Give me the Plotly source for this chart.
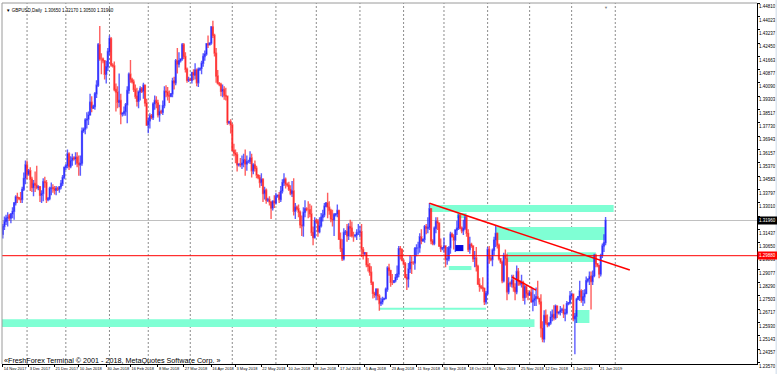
import pandas as pd
import plotly.graph_objects as go

# ---------------- data: GBPUSD daily bars (one line per week, Sun..Fri) ----------------
opens = [
    1.3190, 1.3115, 1.3160, 1.3190, 1.3210,
    1.3225, 1.3210, 1.3235, 1.3250, 1.3300, 1.3335,
    1.3330, 1.3325, 1.3320, 1.3380, 1.3445, 1.3525,
    1.3470, 1.3490, 1.3440, 1.3390, 1.3415, 1.3405,
    1.3390, 1.3395, 1.3345, 1.3355, 1.3425, 1.3420,
    1.3320, 1.3325, 1.3385, 1.3390, 1.3385, 1.3375,
    1.3385, 1.3380, 1.3395, 1.3415, 1.3450,
    1.3510, 1.3520, 1.3590, 1.3515, 1.3550,
    1.3565, 1.3560, 1.3570, 1.3535, 1.3525, 1.3535,
    1.3725, 1.3735, 1.3790, 1.3795, 1.3820, 1.3895,
    1.3860, 1.3870, 1.3945, 1.3995, 1.4235, 1.4150,
    1.4150, 1.4140, 1.4060, 1.4105, 1.4195, 1.4270,
    1.4115, 1.4110, 1.3970, 1.3955, 1.3895, 1.3905,
    1.3825, 1.3830, 1.3840, 1.3880, 1.3965, 1.4060,
    1.4030, 1.4015, 1.3970, 1.3930, 1.3900, 1.3955,
    1.3975, 1.3960, 1.3995, 1.3890, 1.3760, 1.3785,
    1.3815, 1.3805, 1.3885, 1.3905, 1.3890, 1.3820,
    1.3840, 1.3835, 1.3875, 1.3960, 1.3955, 1.3935,
    1.3930, 1.3945, 1.4020, 1.4010, 1.4140, 1.4120,
    1.4140, 1.4150, 1.4235, 1.4165, 1.4090, 1.4025,
    1.4030, 1.4025, 1.4070, 1.4055, 1.4085, 1.4010,
    1.4090, 1.4095, 1.4125, 1.4165, 1.4180, 1.4240,
    1.4235, 1.4245, 1.4340, 1.4290, 1.4185, 1.4050,
    1.4005, 1.4000, 1.3960, 1.3970, 1.3935, 1.3930,
    1.3775, 1.3780, 1.3760, 1.3610, 1.3595, 1.3585,
    1.3525, 1.3530, 1.3525, 1.3535, 1.3555, 1.3530,
    1.3545, 1.3545, 1.3565, 1.3490, 1.3525, 1.3505,
    1.3465, 1.3450, 1.3420, 1.3440, 1.3355, 1.3375,
    1.3315, 1.3320, 1.3305, 1.3270, 1.3310, 1.3300,
    1.3340, 1.3345, 1.3320, 1.3370, 1.3420, 1.3440,
    1.3410, 1.3405, 1.3380, 1.3355, 1.3370, 1.3250,
    1.3275, 1.3265, 1.3245, 1.3170, 1.3165, 1.3245,
    1.3265, 1.3260, 1.3260, 1.3235, 1.3125, 1.3095,
    1.3195, 1.3190, 1.3130, 1.3165, 1.3215, 1.3230,
    1.3280, 1.3300, 1.3275, 1.3255, 1.3205, 1.3200,
    1.3230, 1.3235, 1.3255, 1.3085, 1.3030, 1.2970,
    1.3125, 1.3130, 1.3105, 1.3160, 1.3150, 1.3105,
    1.3105, 1.3110, 1.3125, 1.3125, 1.3130, 1.3025,
    1.3000, 1.3005, 1.2935, 1.2925, 1.2890, 1.2830,
    1.2765, 1.2755, 1.2790, 1.2750, 1.2705, 1.2715,
    1.2730, 1.2735, 1.2790, 1.2915, 1.2900, 1.2830,
    1.2830, 1.2840, 1.2860, 1.2880, 1.3030, 1.3025,
    1.2960, 1.2940, 1.2860, 1.2850, 1.2910, 1.2950,
    1.2945, 1.2945, 1.3030, 1.3035, 1.3035, 1.3100,
    1.3075, 1.3085, 1.3160, 1.3150, 1.3155, 1.3265,
    1.3075, 1.3060, 1.3150, 1.3190, 1.3180, 1.3045,
    1.3030, 1.3035, 1.3045, 1.2965, 1.2970, 1.3035,
    1.3115, 1.3100, 1.3080, 1.3140, 1.3150, 1.3225,
    1.3150, 1.3135, 1.3150, 1.3215, 1.3120, 1.3025,
    1.3055, 1.3045, 1.2970, 1.2975, 1.2925, 1.2820,
    1.2805, 1.2800, 1.2795, 1.2715, 1.2765, 1.3025,
    1.2970, 1.2965, 1.3020, 1.3080, 1.3120, 1.3050,
    1.2970, 1.2950, 1.2840, 1.2990, 1.2970, 1.2775,
    1.2825, 1.2820, 1.2845, 1.2800, 1.2775, 1.2895,
    1.2835, 1.2820, 1.2830, 1.2740, 1.2805, 1.2765,
    1.2755, 1.2770, 1.2715, 1.2725, 1.2735, 1.2745,
    1.2735, 1.2715, 1.2560, 1.2495, 1.2635, 1.2590,
    1.2580, 1.2590, 1.2625, 1.2640, 1.2620, 1.2690,
    1.2650, 1.2655, 1.2665, 1.2670, 1.2645, 1.2650,
    1.2705, 1.2710, 1.2750, 1.2760, 1.2615, 1.2630,
    1.2730, 1.2745, 1.2780, 1.2725, 1.2745, 1.2765,
    1.2840, 1.2850, 1.2865, 1.2835, 1.2870, 1.2990,
    1.2940, 1.2930, 1.2880, 1.2990, 1.3045, 1.3065,
]
highs = [
    1.3195, 1.3175, 1.3220, 1.3230, 1.3245,
    1.3235, 1.3240, 1.3275, 1.3305, 1.3345, 1.3360,
    1.3335, 1.3365, 1.3395, 1.3480, 1.3550, 1.3550,
    1.3500, 1.3510, 1.3455, 1.3435, 1.3485, 1.3520,
    1.3405, 1.3400, 1.3375, 1.3445, 1.3455, 1.3435,
    1.3335, 1.3395, 1.3420, 1.3410, 1.3400, 1.3400,
    1.3395, 1.3400, 1.3435, 1.3465, 1.3515,
    1.3530, 1.3615, 1.3600, 1.3575, 1.3590,
    1.3575, 1.3600, 1.3600, 1.3580, 1.3580, 1.3745,
    1.3745, 1.3800, 1.3835, 1.3840, 1.3945, 1.3930,
    1.3880, 1.3955, 1.4025, 1.4245, 1.4345, 1.4185,
    1.4160, 1.4145, 1.4140, 1.4215, 1.4290, 1.4280,
    1.4125, 1.4135, 1.4005, 1.3990, 1.4065, 1.3945,
    1.3835, 1.3870, 1.3890, 1.3990, 1.4070, 1.4145,
    1.4040, 1.4030, 1.4000, 1.3980, 1.3965, 1.3990,
    1.3985, 1.4010, 1.4000, 1.3915, 1.3805, 1.3830,
    1.3825, 1.3895, 1.3935, 1.3930, 1.3910, 1.3880,
    1.3850, 1.3905, 1.3990, 1.3995, 1.3985, 1.3965,
    1.3950, 1.4040, 1.4045, 1.4150, 1.4215, 1.4190,
    1.4155, 1.4245, 1.4245, 1.4190, 1.4100, 1.4045,
    1.4040, 1.4075, 1.4090, 1.4125, 1.4095, 1.4100,
    1.4100, 1.4140, 1.4185, 1.4200, 1.4245, 1.4290,
    1.4250, 1.4345, 1.4377, 1.4300, 1.4215, 1.4085,
    1.4015, 1.4010, 1.4000, 1.3990, 1.3980, 1.3935,
    1.3785, 1.3795, 1.3770, 1.3650, 1.3615, 1.3600,
    1.3535, 1.3565, 1.3580, 1.3590, 1.3615, 1.3580,
    1.3555, 1.3605, 1.3590, 1.3535, 1.3550, 1.3520,
    1.3470, 1.3465, 1.3475, 1.3445, 1.3395, 1.3385,
    1.3330, 1.3340, 1.3310, 1.3315, 1.3345, 1.3360,
    1.3350, 1.3365, 1.3400, 1.3440, 1.3475, 1.3450,
    1.3420, 1.3425, 1.3405, 1.3430, 1.3445, 1.3300,
    1.3285, 1.3290, 1.3255, 1.3225, 1.3275, 1.3315,
    1.3275, 1.3310, 1.3295, 1.3285, 1.3160, 1.3215,
    1.3205, 1.3205, 1.3215, 1.3240, 1.3260, 1.3300,
    1.3305, 1.3360, 1.3310, 1.3265, 1.3260, 1.3240,
    1.3240, 1.3290, 1.3260, 1.3125, 1.3085, 1.3150,
    1.3140, 1.3175, 1.3180, 1.3200, 1.3190, 1.3130,
    1.3115, 1.3145, 1.3175, 1.3165, 1.3175, 1.3040,
    1.3010, 1.3010, 1.2975, 1.2945, 1.2925, 1.2835,
    1.2775, 1.2795, 1.2795, 1.2760, 1.2740, 1.2745,
    1.2740, 1.2800, 1.2925, 1.2940, 1.2905, 1.2880,
    1.2845, 1.2880, 1.2930, 1.3045, 1.3045, 1.3030,
    1.2965, 1.2950, 1.2880, 1.2945, 1.2990, 1.2985,
    1.2955, 1.3040, 1.3055, 1.3070, 1.3120, 1.3145,
    1.3090, 1.3170, 1.3175, 1.3215, 1.3300, 1.3270,
    1.3085, 1.3160, 1.3215, 1.3215, 1.3185, 1.3090,
    1.3040, 1.3095, 1.3050, 1.3040, 1.3045, 1.3130,
    1.3125, 1.3115, 1.3145, 1.3195, 1.3235, 1.3240,
    1.3160, 1.3200, 1.3230, 1.3225, 1.3145, 1.3100,
    1.3065, 1.3050, 1.3015, 1.3040, 1.2935, 1.2855,
    1.2815, 1.2860, 1.2800, 1.2780, 1.3040, 1.3045,
    1.2985, 1.3030, 1.3100, 1.3165, 1.3125, 1.3060,
    1.2975, 1.2960, 1.3005, 1.3025, 1.3000, 1.2860,
    1.2835, 1.2875, 1.2875, 1.2825, 1.2930, 1.2915,
    1.2845, 1.2875, 1.2840, 1.2815, 1.2815, 1.2785,
    1.2780, 1.2805, 1.2795, 1.2760, 1.2800, 1.2840,
    1.2740, 1.2760, 1.2600, 1.2665, 1.2670, 1.2640,
    1.2595, 1.2660, 1.2670, 1.2695, 1.2700, 1.2695,
    1.2660, 1.2690, 1.2680, 1.2700, 1.2675, 1.2720,
    1.2715, 1.2780, 1.2770, 1.2760, 1.2650, 1.2740,
    1.2750, 1.2840, 1.2790, 1.2785, 1.2790, 1.2865,
    1.2855, 1.2895, 1.2895, 1.2900, 1.3000, 1.3000,
    1.2945, 1.2935, 1.3000, 1.3060, 1.3115, 1.3217,
]
lows = [
    1.3060, 1.3090, 1.3140, 1.3170, 1.3160,
    1.3195, 1.3180, 1.3210, 1.3200, 1.3285, 1.3300,
    1.3315, 1.3300, 1.3300, 1.3370, 1.3410, 1.3440,
    1.3460, 1.3370, 1.3365, 1.3340, 1.3365, 1.3380,
    1.3375, 1.3305, 1.3300, 1.3310, 1.3390, 1.3300,
    1.3310, 1.3315, 1.3345, 1.3360, 1.3350, 1.3345,
    1.3370, 1.3360, 1.3380, 1.3400, 1.3440,
    1.3495, 1.3505, 1.3495, 1.3505, 1.3520,
    1.3550, 1.3525, 1.3510, 1.3460, 1.3460, 1.3520,
    1.3715, 1.3705, 1.3740, 1.3760, 1.3815, 1.3835,
    1.3855, 1.3850, 1.3920, 1.3985, 1.4140, 1.4060,
    1.4125, 1.4030, 1.4005, 1.4080, 1.4175, 1.4105,
    1.4100, 1.3960, 1.3840, 1.3860, 1.3865, 1.3765,
    1.3810, 1.3815, 1.3815, 1.3770, 1.3945, 1.4010,
    1.4005, 1.3955, 1.3915, 1.3870, 1.3860, 1.3905,
    1.3950, 1.3915, 1.3870, 1.3755, 1.3712, 1.3740,
    1.3795, 1.3790, 1.3850, 1.3860, 1.3805, 1.3780,
    1.3825, 1.3820, 1.3860, 1.3925, 1.3905, 1.3890,
    1.3925, 1.3925, 1.3970, 1.3995, 1.4065, 1.4100,
    1.4130, 1.4140, 1.4150, 1.4070, 1.4010, 1.4015,
    1.4020, 1.4005, 1.4025, 1.4030, 1.3990, 1.3985,
    1.4080, 1.4060, 1.4105, 1.4140, 1.4170, 1.4215,
    1.4230, 1.4235, 1.4275, 1.4165, 1.4010, 1.4000,
    1.3990, 1.3930, 1.3925, 1.3910, 1.3905, 1.3760,
    1.3765, 1.3710, 1.3605, 1.3575, 1.3535, 1.3485,
    1.3515, 1.3510, 1.3500, 1.3510, 1.3460, 1.3490,
    1.3535, 1.3530, 1.3450, 1.3470, 1.3485, 1.3445,
    1.3440, 1.3390, 1.3400, 1.3305, 1.3320, 1.3295,
    1.3305, 1.3285, 1.3205, 1.3255, 1.3270, 1.3290,
    1.3330, 1.3300, 1.3305, 1.3355, 1.3400, 1.3385,
    1.3395, 1.3370, 1.3345, 1.3335, 1.3225, 1.3205,
    1.3255, 1.3215, 1.3150, 1.3105, 1.3100, 1.3215,
    1.3250, 1.3210, 1.3215, 1.3105, 1.3050, 1.3090,
    1.3180, 1.3100, 1.3120, 1.3155, 1.3190, 1.3215,
    1.3275, 1.3210, 1.3230, 1.3185, 1.3160, 1.3105,
    1.3220, 1.3215, 1.3080, 1.3010, 1.2957, 1.2960,
    1.3110, 1.3070, 1.3080, 1.3100, 1.3095, 1.3070,
    1.3095, 1.3080, 1.3110, 1.3095, 1.2980, 1.2965,
    1.2990, 1.2920, 1.2895, 1.2870, 1.2815, 1.2735,
    1.2740, 1.2725, 1.2725, 1.2662, 1.2690, 1.2700,
    1.2725, 1.2730, 1.2775, 1.2870, 1.2805, 1.2815,
    1.2825, 1.2830, 1.2845, 1.2860, 1.2965, 1.2955,
    1.2930, 1.2855, 1.2785, 1.2800, 1.2885, 1.2880,
    1.2935, 1.2905, 1.2985, 1.2995, 1.3005, 1.3055,
    1.3070, 1.3065, 1.3115, 1.3120, 1.3140, 1.3055,
    1.3050, 1.3050, 1.3120, 1.3140, 1.3040, 1.3010,
    1.3020, 1.3005, 1.2920, 1.2935, 1.2955, 1.3000,
    1.3095, 1.3025, 1.3010, 1.3110, 1.3140, 1.3145,
    1.3120, 1.3110, 1.3140, 1.3100, 1.3010, 1.3000,
    1.3035, 1.2950, 1.2920, 1.2895, 1.2815, 1.2775,
    1.2790, 1.2775, 1.2696, 1.2700, 1.2755, 1.2940,
    1.2955, 1.2925, 1.2990, 1.3040, 1.3030, 1.2960,
    1.2940, 1.2825, 1.2830, 1.2930, 1.2725, 1.2760,
    1.2805, 1.2800, 1.2775, 1.2725, 1.2760, 1.2810,
    1.2810, 1.2800, 1.2720, 1.2700, 1.2740, 1.2725,
    1.2750, 1.2710, 1.2660, 1.2690, 1.2690, 1.2730,
    1.2700, 1.2505, 1.2477, 1.2475, 1.2580, 1.2565,
    1.2570, 1.2580, 1.2600, 1.2605, 1.2610, 1.2620,
    1.2640, 1.2635, 1.2650, 1.2620, 1.2600, 1.2640,
    1.2695, 1.2700, 1.2735, 1.2600, 1.2405, 1.2590,
    1.2725, 1.2720, 1.2710, 1.2690, 1.2705, 1.2760,
    1.2830, 1.2815, 1.2670, 1.2815, 1.2860, 1.2920,
    1.2920, 1.2855, 1.2865, 1.2975, 1.3010, 1.3050,
]
closes = [
    1.3115, 1.3160, 1.3190, 1.3210, 1.3215,
    1.3210, 1.3235, 1.3250, 1.3300, 1.3335, 1.3330,
    1.3325, 1.3320, 1.3380, 1.3445, 1.3525, 1.3470,
    1.3490, 1.3440, 1.3390, 1.3415, 1.3405, 1.3390,
    1.3395, 1.3345, 1.3355, 1.3425, 1.3420, 1.3320,
    1.3325, 1.3385, 1.3390, 1.3385, 1.3375, 1.3385,
    1.3380, 1.3395, 1.3415, 1.3450, 1.3510,
    1.3520, 1.3590, 1.3515, 1.3550, 1.3565,
    1.3560, 1.3570, 1.3535, 1.3525, 1.3535, 1.3725,
    1.3735, 1.3790, 1.3795, 1.3820, 1.3895, 1.3860,
    1.3870, 1.3945, 1.3995, 1.4235, 1.4150, 1.4150,
    1.4140, 1.4060, 1.4105, 1.4195, 1.4270, 1.4115,
    1.4110, 1.3970, 1.3955, 1.3895, 1.3905, 1.3825,
    1.3830, 1.3840, 1.3880, 1.3965, 1.4060, 1.4030,
    1.4015, 1.3970, 1.3930, 1.3900, 1.3955, 1.3975,
    1.3960, 1.3995, 1.3890, 1.3760, 1.3785, 1.3815,
    1.3805, 1.3885, 1.3905, 1.3890, 1.3820, 1.3840,
    1.3835, 1.3875, 1.3960, 1.3955, 1.3935, 1.3930,
    1.3945, 1.4020, 1.4010, 1.4140, 1.4120, 1.4140,
    1.4150, 1.4235, 1.4165, 1.4090, 1.4025, 1.4030,
    1.4025, 1.4070, 1.4055, 1.4085, 1.4010, 1.4090,
    1.4095, 1.4125, 1.4165, 1.4180, 1.4240, 1.4235,
    1.4245, 1.4340, 1.4290, 1.4185, 1.4050, 1.4005,
    1.4000, 1.3960, 1.3970, 1.3935, 1.3930, 1.3775,
    1.3780, 1.3760, 1.3610, 1.3595, 1.3585, 1.3525,
    1.3530, 1.3525, 1.3535, 1.3555, 1.3530, 1.3545,
    1.3545, 1.3565, 1.3490, 1.3525, 1.3505, 1.3465,
    1.3450, 1.3420, 1.3440, 1.3355, 1.3375, 1.3315,
    1.3320, 1.3305, 1.3270, 1.3310, 1.3300, 1.3340,
    1.3345, 1.3320, 1.3370, 1.3420, 1.3440, 1.3410,
    1.3405, 1.3380, 1.3355, 1.3370, 1.3250, 1.3275,
    1.3265, 1.3245, 1.3170, 1.3165, 1.3245, 1.3265,
    1.3260, 1.3260, 1.3235, 1.3125, 1.3095, 1.3195,
    1.3190, 1.3130, 1.3165, 1.3215, 1.3230, 1.3280,
    1.3300, 1.3275, 1.3255, 1.3205, 1.3200, 1.3230,
    1.3235, 1.3255, 1.3085, 1.3030, 1.2970, 1.3125,
    1.3130, 1.3105, 1.3160, 1.3150, 1.3105, 1.3105,
    1.3110, 1.3125, 1.3125, 1.3130, 1.3025, 1.3000,
    1.3005, 1.2935, 1.2925, 1.2890, 1.2830, 1.2765,
    1.2755, 1.2790, 1.2750, 1.2705, 1.2715, 1.2730,
    1.2735, 1.2790, 1.2915, 1.2900, 1.2830, 1.2830,
    1.2840, 1.2860, 1.2880, 1.3030, 1.3025, 1.2960,
    1.2940, 1.2860, 1.2850, 1.2910, 1.2950, 1.2945,
    1.2945, 1.3030, 1.3035, 1.3035, 1.3100, 1.3075,
    1.3085, 1.3160, 1.3150, 1.3155, 1.3265, 1.3075,
    1.3060, 1.3150, 1.3190, 1.3180, 1.3045, 1.3030,
    1.3035, 1.3045, 1.2965, 1.2970, 1.3035, 1.3115,
    1.3100, 1.3080, 1.3140, 1.3150, 1.3225, 1.3150,
    1.3135, 1.3150, 1.3215, 1.3120, 1.3025, 1.3055,
    1.3045, 1.2970, 1.2975, 1.2925, 1.2820, 1.2805,
    1.2800, 1.2795, 1.2715, 1.2765, 1.3025, 1.2970,
    1.2965, 1.3020, 1.3080, 1.3120, 1.3050, 1.2970,
    1.2950, 1.2840, 1.2990, 1.2970, 1.2775, 1.2825,
    1.2820, 1.2845, 1.2800, 1.2775, 1.2895, 1.2835,
    1.2820, 1.2830, 1.2740, 1.2805, 1.2765, 1.2755,
    1.2770, 1.2715, 1.2725, 1.2735, 1.2745, 1.2735,
    1.2715, 1.2560, 1.2495, 1.2635, 1.2590, 1.2580,
    1.2590, 1.2625, 1.2640, 1.2620, 1.2690, 1.2650,
    1.2655, 1.2665, 1.2670, 1.2645, 1.2650, 1.2705,
    1.2710, 1.2750, 1.2760, 1.2615, 1.2630, 1.2730,
    1.2745, 1.2780, 1.2725, 1.2745, 1.2765, 1.2840,
    1.2850, 1.2865, 1.2835, 1.2870, 1.2990, 1.2940,
    1.2930, 1.2880, 1.2990, 1.3045, 1.3065, 1.3196,
]

# trading calendar (broker has Sunday bars; no Sunday bars at Christmas / New Year 2017)
first_bar_date = "2017-11-13"
last_bar_date = "2019-01-25"
axis_last_date = "2019-03-31"
missing_days = ["2017-12-24", "2017-12-31"]

# time-axis labels
x_tick_dates = ["2017-11-14", "2017-12-03", "2017-12-21", "2018-01-10", "2018-01-30",
                "2018-02-16", "2018-03-08", "2018-03-27", "2018-04-16", "2018-05-03",
                "2018-05-22", "2018-06-10", "2018-06-28", "2018-07-17", "2018-08-05",
                "2018-08-23", "2018-09-11", "2018-09-30", "2018-10-18", "2018-11-06",
                "2018-11-25", "2018-12-12", "2019-01-01", "2019-01-21"]
x_tick_text = ["14 Nov 2017", "3 Dec 2017", "21 Dec 2017", "10 Jan 2018", "30 Jan 2018",
               "16 Feb 2018", "8 Mar 2018", "27 Mar 2018", "16 Apr 2018", "3 May 2018",
               "22 May 2018", "10 Jun 2018", "28 Jun 2018", "17 Jul 2018", "5 Aug 2018",
               "23 Aug 2018", "11 Sep 2018", "30 Sep 2018", "18 Oct 2018", "6 Nov 2018",
               "25 Nov 2018", "12 Dec 2018", "1 Jan 2019", "21 Jan 2019"]

# price-axis labels
y_tick_vals = [1.44810, 1.44023, 1.43237, 1.42450, 1.41663, 1.40877, 1.40090, 1.39303,
               1.38517, 1.37730, 1.36943, 1.36157, 1.35370, 1.34583, 1.33797, 1.33010,
               1.32223, 1.31437, 1.30650, 1.29863, 1.29077, 1.28290, 1.27503, 1.26717,
               1.25930, 1.25143, 1.24357, 1.23570]

# grid (month starts) shown up to this month
grid_last_month = "2019-02"

# drawn objects (analysis zones): start date, end date, upper price, lower price
zone_start = ["2017-11-13", "2018-09-20", "2018-11-07", "2018-11-15", "2018-10-04", "2018-10-10", "2019-01-03"]
zone_end   = ["2018-12-05", "2019-01-31", "2019-01-25", "2019-01-18", "2018-10-21", "2018-10-17", "2019-01-14"]
zone_top   = [1.2613, 1.3287, 1.3157, 1.3009, 1.2927, 1.3240, 1.2667]
zone_bot   = [1.2566, 1.3246, 1.3080, 1.2950, 1.2903, 1.3210, 1.2590]
blue_box = ["2018-10-09", "2018-10-15", 1.3051, 1.3015]
support_line = ["2018-08-15", "2018-10-31", 1.2675]
trend_main = ["2018-09-20", 1.3298, "2019-02-12", 1.2903]
trend_small = ["2018-11-19", 1.2862, "2018-12-06", 1.2785]
red_level = 1.2988
chart_shift_date = "2019-01-25"

# ---------------- build ----------------
days = pd.date_range(first_bar_date, axis_last_date, freq="D")
cal = [d for d in days if d.weekday() != 5 and d.strftime("%Y-%m-%d") not in missing_days]
pos = {d.strftime("%Y-%m-%d"): i for i, d in enumerate(cal)}
bar_days = [d for d in cal if d <= pd.Timestamp(last_bar_date)]
n = min(len(bar_days), len(opens), len(highs), len(lows), len(closes))
xs = list(range(n))

BLUE = "#0000FF"
RED = "#FF0000"
AQUA = "#7FFFD4"
FONT = "Liberation Sans, Arial, sans-serif"

fig = go.Figure()
fig.add_trace(go.Candlestick(
    x=xs, open=opens[:n], high=highs[:n], low=lows[:n], close=closes[:n],
    increasing=dict(line=dict(color="rgba(40,40,255,0.75)", width=1.4), fillcolor=BLUE),
    decreasing=dict(line=dict(color="rgba(255,40,40,0.75)", width=1.4), fillcolor=RED),
    whiskerwidth=0, hoverinfo="skip", showlegend=False,
))

shapes = []
# month grid lines
months_seen = set()
for d in cal:
    key = d.strftime("%Y-%m")
    if key in months_seen:
        continue
    months_seen.add(key)
    if d.strftime("%Y-%m-%d") == first_bar_date or key > grid_last_month:
        continue
    shapes.append(dict(type="line", xref="x", yref="paper", x0=pos[d.strftime("%Y-%m-%d")],
                       x1=pos[d.strftime("%Y-%m-%d")], y0=0, y1=1,
                       line=dict(color="#8c8c8c", width=1, dash="2px,2px"), layer="below"))

for s, e, t, b in zip(zone_start, zone_end, zone_top, zone_bot):
    shapes.append(dict(type="rect", xref="x", yref="y", x0=pos[s], x1=pos[e], y0=b, y1=t,
                       fillcolor=AQUA, line=dict(width=0), layer="below"))
shapes.append(dict(type="rect", xref="x", yref="y", x0=pos[blue_box[0]], x1=pos[blue_box[1]],
                   y0=blue_box[3], y1=blue_box[2], fillcolor="#0A0AE0", line=dict(width=0), layer="above"))
shapes.append(dict(type="line", xref="x", yref="y", x0=pos[support_line[0]], x1=pos[support_line[1]],
                   y0=support_line[2], y1=support_line[2], line=dict(color=AQUA, width=2), layer="below"))
# bid line and red level
shapes.append(dict(type="line", xref="paper", yref="y", x0=0, x1=1, y0=closes[n - 1], y1=closes[n - 1],
                   line=dict(color="#c0c0c0", width=1), layer="below"))
shapes.append(dict(type="line", xref="paper", yref="y", x0=0, x1=1, y0=red_level, y1=red_level,
                   line=dict(color=RED, width=1), layer="above"))
for tl in (trend_main, trend_small):
    shapes.append(dict(type="line", xref="x", yref="y", x0=pos[tl[0]], y0=tl[1], x1=pos[tl[2]], y1=tl[3],
                       line=dict(color=RED, width=1.5), layer="above"))
# window frame (top / left) and right window edge strip
shapes.append(dict(type="line", xref="paper", yref="paper", x0=0, x1=1, y0=1, y1=1,
                   line=dict(color="#9a9a9a", width=1)))
shapes.append(dict(type="line", xref="paper", yref="paper", x0=0, x1=0, y0=0, y1=1,
                   line=dict(color="#9a9a9a", width=1)))
shapes.append(dict(type="rect", xref="paper", yref="paper", x0=1.0245, x1=1.03, y0=-0.03, y1=1.01,
                   fillcolor="#dde6ef", line=dict(width=0)))

annotations = [
    dict(xref="paper", yref="paper", x=0.003, y=0.992, xanchor="left", yanchor="top", showarrow=False,
         text="\u25BC GBPUSD,Daily  %.5f %.5f %.5f %.5f" % (opens[n - 1], highs[n - 1], lows[n - 1], closes[n - 1]),
         font=dict(family=FONT, size=4.5, color="#000000")),
    dict(xref="paper", yref="paper", x=0.0, y=0.009, xanchor="left", yanchor="middle", showarrow=False,
         text="\u00ABFreshForex Terminal \u00A9 2001 - 2018, MetaQuotes Software Corp. \u00BB",
         font=dict(family=FONT, size=7.2, color="#000000")),
    dict(xref="paper", yref="y", x=1.0, y=closes[n - 1], xanchor="left", yanchor="middle", showarrow=False,
         text="%.5f" % closes[n - 1], bgcolor="#000000", borderpad=1,
         font=dict(family=FONT, size=4.5, color="#ffffff")),
    dict(xref="paper", yref="y", x=1.0, y=red_level, xanchor="left", yanchor="middle", showarrow=False,
         text="%.5f" % red_level, bgcolor=RED, borderpad=1,
         font=dict(family=FONT, size=4.5, color="#ffffff")),
    dict(xref="x", yref="paper", x=pos[chart_shift_date], y=1.0, xanchor="center", yanchor="top",
         showarrow=False, text="\u25BC", font=dict(family=FONT, size=4, color="#808080")),
]

px_per_price = 0.000591
y_top = y_tick_vals[0] + 0.00004
y_bottom = y_top - 361 * px_per_price

tick_pos = [pos[d] for d in x_tick_dates if d in pos]
tick_txt = [t for d, t in zip(x_tick_dates, x_tick_text) if d in pos]

fig.update_layout(
    width=777, height=374,
    margin=dict(l=2, r=20, t=3, b=10, autoexpand=False),
    paper_bgcolor="#ffffff", plot_bgcolor="#ffffff",
    showlegend=False,
    shapes=shapes, annotations=annotations,
    xaxis=dict(range=[0.5, 467.7], rangeslider=dict(visible=False), showgrid=False, zeroline=False,
               showline=True, linecolor="#000000", linewidth=1, automargin=False,
               tickmode="array", tickvals=tick_pos, ticktext=tick_txt, tickangle=0,
               ticks="outside", ticklen=2, tickcolor="#000000",
               ticklabelposition="outside right",
               tickfont=dict(family=FONT, size=4, color="#000000")),
    yaxis=dict(side="right", range=[y_bottom, y_top], showgrid=False, zeroline=False,
               showline=True, linecolor="#000000", linewidth=1, automargin=False,
               tickmode="array", tickvals=y_tick_vals, ticktext=["%.5f" % v for v in y_tick_vals],
               ticks="outside", ticklen=2, tickcolor="#000000",
               ticklabelposition="outside bottom",
               tickfont=dict(family=FONT, size=4.5, color="#000000")),
)

fig.write_html("out.html", config={"displayModeBar": False},
               post_script="document.body.style.margin='0px';")
